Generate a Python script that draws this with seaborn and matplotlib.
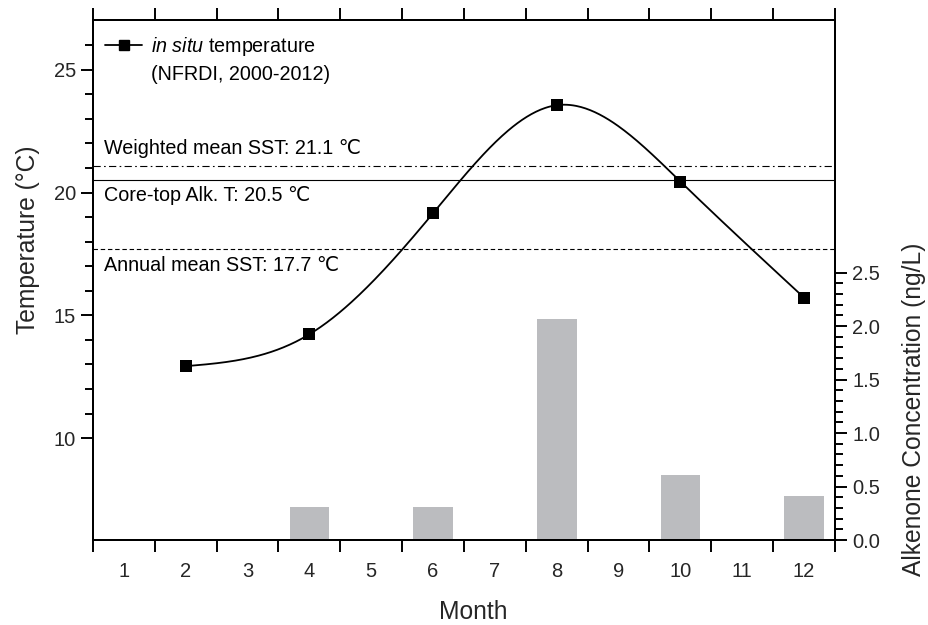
import numpy as np
import pandas as pd
import matplotlib
matplotlib.use("Agg")
import matplotlib.pyplot as plt
import seaborn as sns
from matplotlib.lines import Line2D
from matplotlib.ticker import FixedLocator, NullFormatter

# ---------------- data ----------------
month_labels = [str(m) for m in range(1, 13)]
temp_months = [2, 4, 6, 8, 10, 12]
temp_values = [12.93, 14.23, 19.16, 23.56, 20.45, 15.72]
alk_months = [4, 6, 8, 10, 12]
alk_values = [0.31, 0.31, 2.07, 0.61, 0.41]
ref_values = [21.1, 20.5, 17.7]
ref_labels = ["Weighted mean SST: 21.1 \u2103",
              "Core-top Alk. T: 20.5 \u2103",
              "Annual mean SST: 17.7 \u2103"]
legend_lines = [r"$\mathit{in\ situ}$ temperature", "(NFRDI, 2000-2012)"]

# ---------------- style ----------------
sns.set_style("white")
plt.rcParams["font.family"] = ["Liberation Sans", "DejaVu Sans"]
plt.rcParams["mathtext.fontset"] = "custom"
plt.rcParams["mathtext.rm"] = "Liberation Sans"
plt.rcParams["mathtext.it"] = "Liberation Sans:italic"
plt.rcParams["axes.linewidth"] = 1.4
plt.rcParams["text.color"] = "black"

TICK_FS = 14.5
TEXT_FS = 14.2
LABEL_FS = 17.7


def natural_spline(x, y, xs):
    x = np.asarray(x, float)
    y = np.asarray(y, float)
    n = len(x)
    h = np.diff(x)
    A = np.zeros((n, n))
    b = np.zeros(n)
    A[0, 0] = 1.0
    A[-1, -1] = 1.0
    for i in range(1, n - 1):
        A[i, i - 1] = h[i - 1]
        A[i, i] = 2 * (h[i - 1] + h[i])
        A[i, i + 1] = h[i]
        b[i] = 6 * ((y[i + 1] - y[i]) / h[i] - (y[i] - y[i - 1]) / h[i - 1])
    M = np.linalg.solve(A, b)
    idx = np.clip(np.searchsorted(x, xs) - 1, 0, n - 2)
    x0, x1 = x[idx], x[idx + 1]
    hh = x1 - x0
    return (M[idx] * (x1 - xs) ** 3 / (6 * hh) + M[idx + 1] * (xs - x0) ** 3 / (6 * hh)
            + (y[idx] / hh - M[idx] * hh / 6) * (x1 - xs)
            + (y[idx + 1] / hh - M[idx + 1] * hh / 6) * (xs - x0))


fig = plt.figure(figsize=(9.29, 6.25), dpi=100)
ax = fig.add_axes([93 / 929, 85 / 625, 742 / 929, 520 / 625])
ax2 = ax.twinx()

# bars (alkenone) on the right axis, categorical months 1..12
alk_df = pd.DataFrame({"month": alk_months, "conc": alk_values})
sns.barplot(data=alk_df, x="month", y="conc", order=list(range(1, 13)), ax=ax2,
            color="#bbbcbf", saturation=1, width=0.64, linewidth=0)

# put the temperature axes on top
ax.set_zorder(ax2.get_zorder() + 1)
ax.patch.set_visible(False)

# temperature curve
tx = np.array(temp_months, float) - 1
xs = np.linspace(tx.min(), tx.max(), 400)
ys = natural_spline(tx, temp_values, xs)
sns.lineplot(x=xs, y=ys, ax=ax, color="black", linewidth=1.3, sort=False)
sns.scatterplot(x=tx, y=temp_values, ax=ax, marker="s", s=85, color="black",
                edgecolor="black", linewidth=0, zorder=5)

# reference lines
styles = [(0, (6.5, 3, 1.5, 3)), "-", (0, (4, 2.5))]
text_y = [21.78, 19.88, 17.03]
for val, lab, ls, ty in zip(ref_values, ref_labels, styles, text_y):
    ax.axhline(val, color="black", linewidth=0.8, linestyle=ls, zorder=2)
    ax.text(11 / 742, ty, lab, transform=ax.get_yaxis_transform(), ha="left", va="center",
            fontsize=TEXT_FS)

# axes limits
ax.set_xlim(-0.5, 11.5)
ax.set_ylim(5.85, 27.03)
ax2.set_ylim(0, 4.86)

# x ticks: boundaries as major ticks, labels at centres
ax.xaxis.set_major_locator(FixedLocator(np.arange(-0.5, 12, 1)))
ax.xaxis.set_major_formatter(NullFormatter())
ax.xaxis.set_minor_locator(FixedLocator(np.arange(0, 12, 1)))
ax.set_xticklabels(month_labels, minor=True)
ax.tick_params(axis="x", which="major", direction="out", length=8.6, width=1.4,
               top=True, bottom=True, labelbottom=False, color="black")
ax.tick_params(axis="x", which="minor", length=0, labelsize=TICK_FS, pad=16,
               top=False, bottom=True)

# left y ticks
ax.set_yticks([10, 15, 20, 25])
ax.yaxis.set_minor_locator(FixedLocator([v for v in range(11, 27) if v % 5 != 0]))
ax.tick_params(axis="y", which="major", direction="out", length=8.6, width=1.4,
               labelsize=TICK_FS, pad=3.5, color="black", left=True)
ax.tick_params(axis="y", which="minor", direction="out", length=5.8, width=1.4,
               color="black", left=True)

# right y ticks
ax2.set_yticks([0, 0.5, 1.0, 1.5, 2.0, 2.5])
ax2.set_yticklabels(["0.0", "0.5", "1.0", "1.5", "2.0", "2.5"])
ax2.yaxis.set_minor_locator(FixedLocator(np.round(np.arange(0, 2.51, 0.1), 2)))
ax2.tick_params(axis="y", which="major", direction="out", length=8.6, width=1.4,
                labelsize=TICK_FS, pad=4, color="black", right=True)
ax2.tick_params(axis="y", which="minor", direction="out", length=5.8, width=1.4,
                color="black", right=True)

for a in (ax, ax2):
    for s in a.spines.values():
        s.set_visible(True)
        s.set_color("black")
        s.set_linewidth(1.4)

# labels
ax.set_xlabel("Month", fontsize=LABEL_FS)
ax.xaxis.set_label_coords((473 - 93) / 742, -0.115)
ax.set_ylabel("Temperature (\u00b0C)", fontsize=LABEL_FS)
ax.yaxis.set_label_coords(-0.072, 0.577)
ax2.set_ylabel("Alkenone Concentration (ng/L)", fontsize=LABEL_FS)
ax2.yaxis.set_label_coords(1.090, 0.252)

# legend
h1 = Line2D([], [], color="black", marker="s", markersize=6.5, linewidth=1.3)
h2 = Line2D([], [], color="none", linewidth=0)
ax.legend([h1, h2], legend_lines, loc="upper left", bbox_to_anchor=(12 / 742, 0.972),
          frameon=False, fontsize=TEXT_FS, handlelength=1.9, handletextpad=0.41,
          borderpad=0, borderaxespad=0, labelspacing=0.36)

fig.savefig("out.png", dpi=100)
